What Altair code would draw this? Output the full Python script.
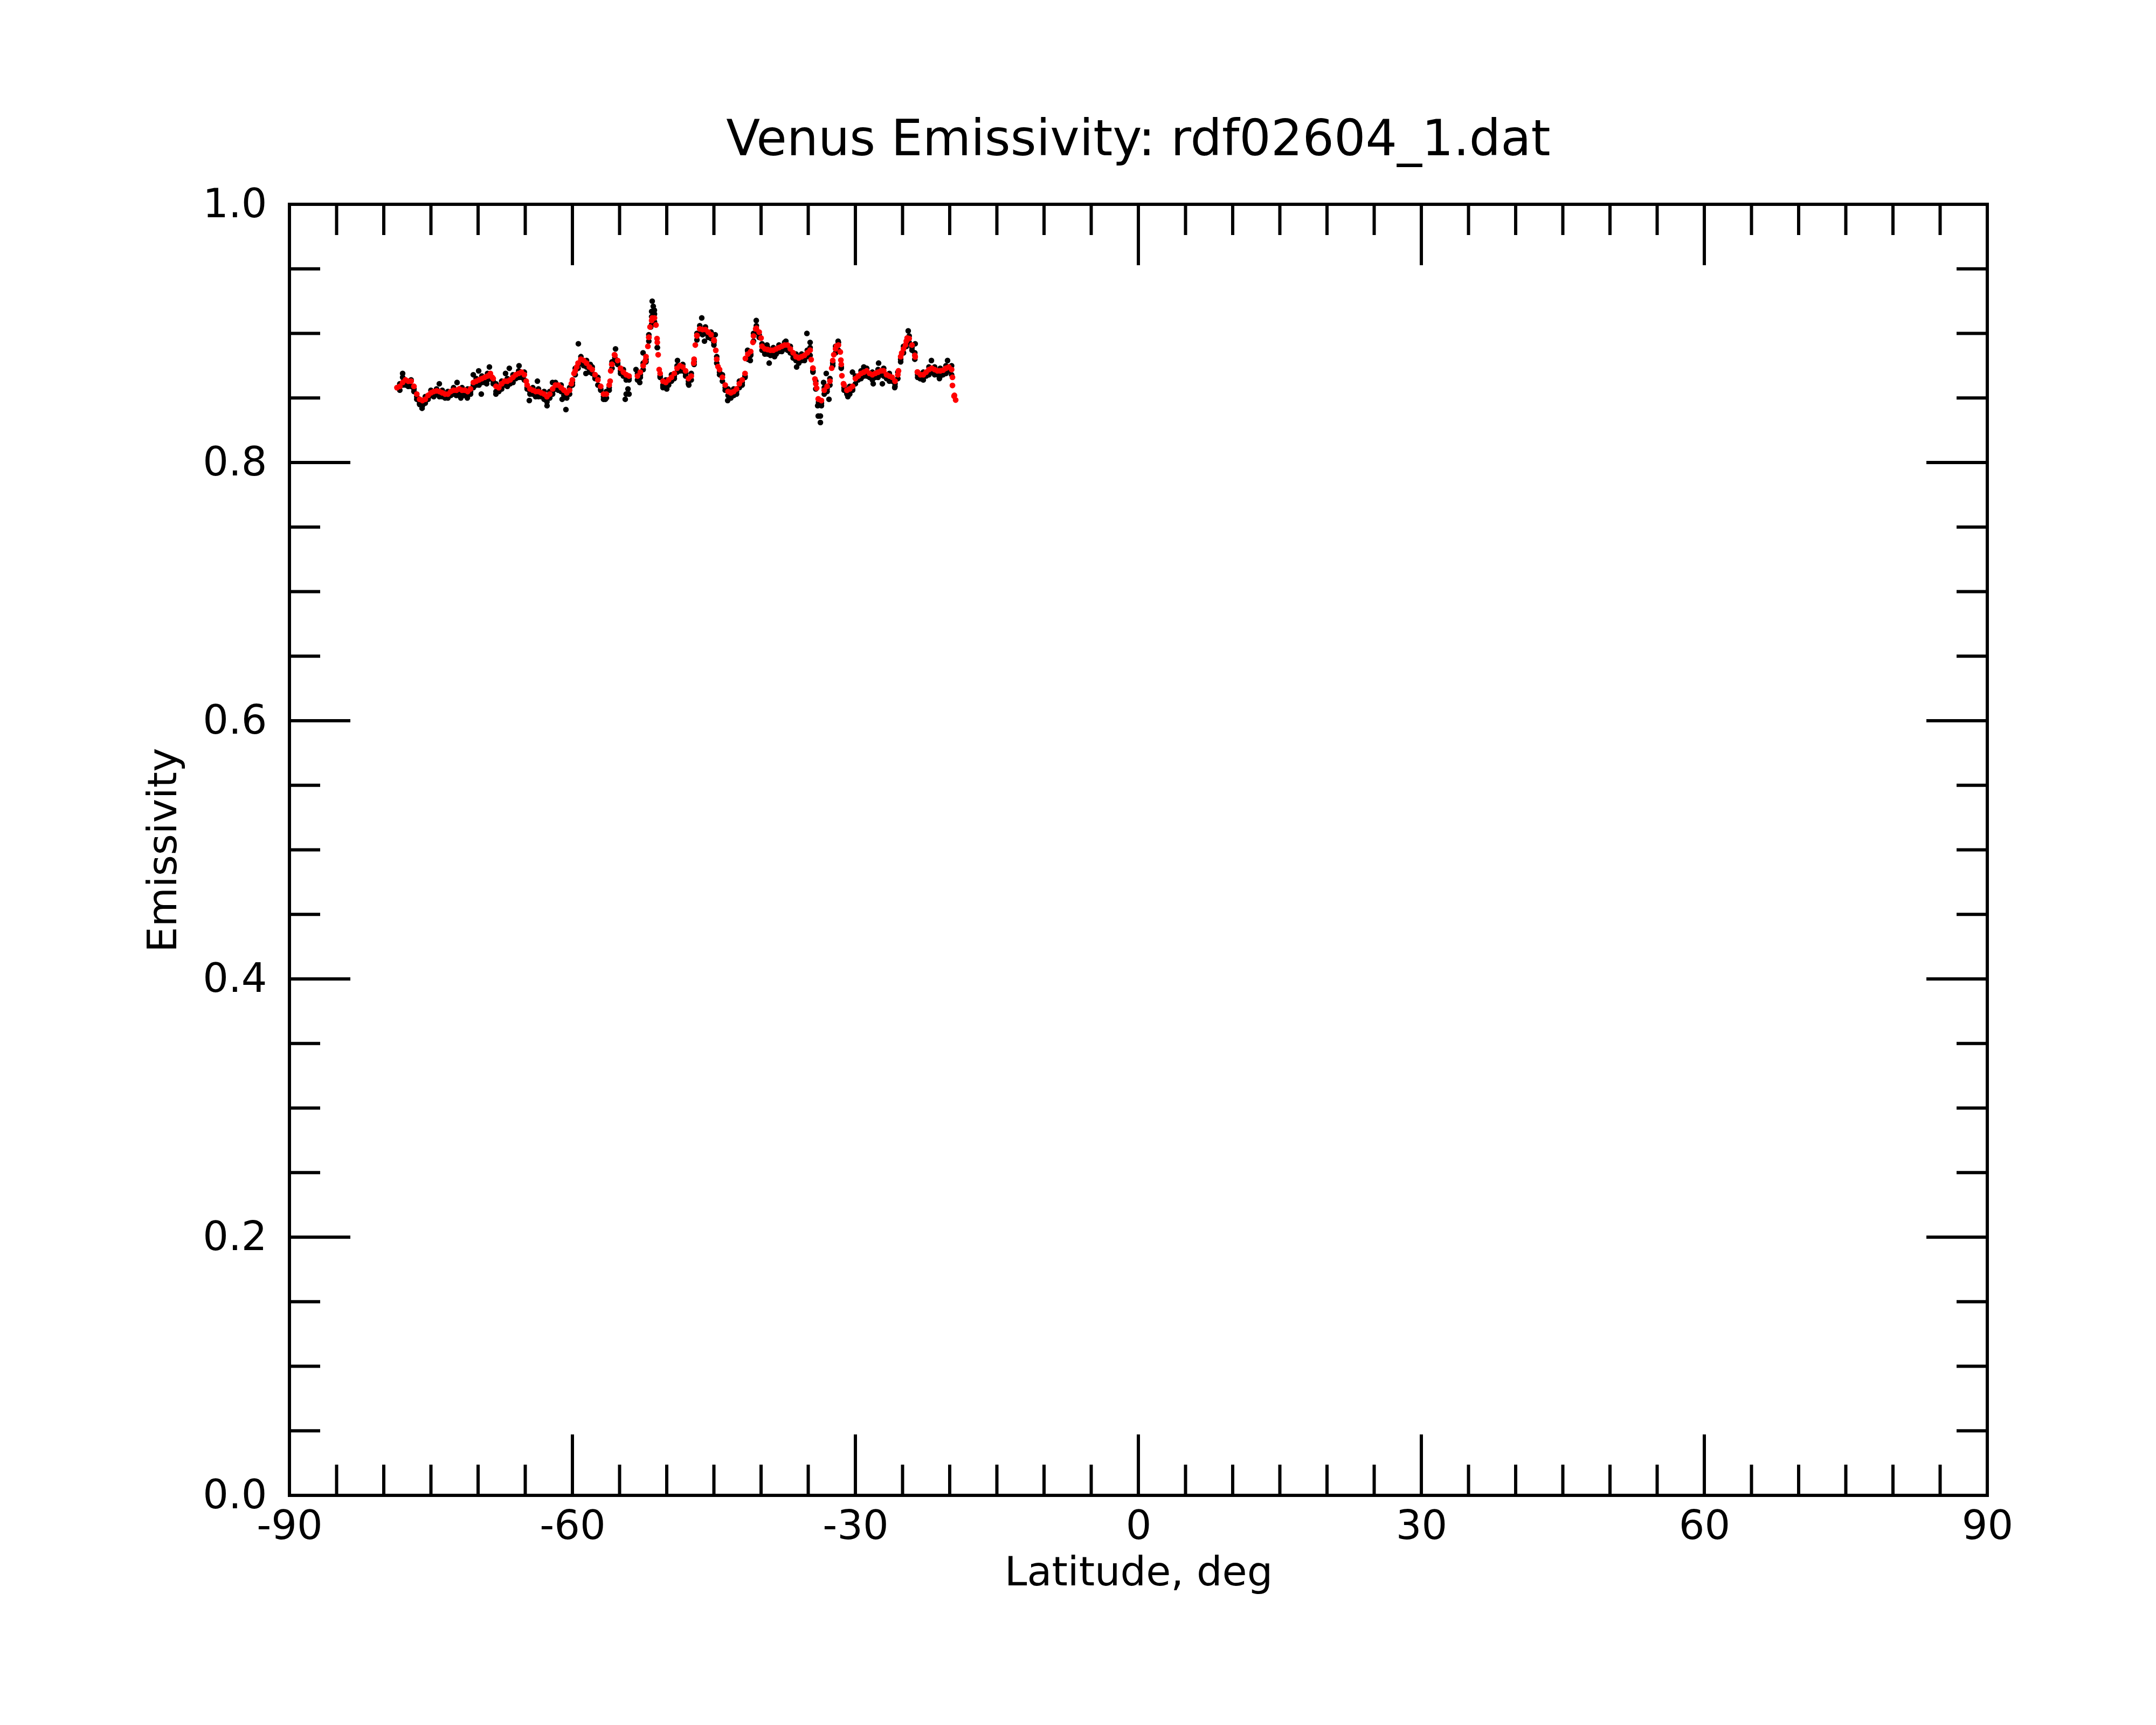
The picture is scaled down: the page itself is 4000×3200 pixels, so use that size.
import altair as alt
import pandas as pd

# ---------------- data ----------------
LAT = [
    -78.6, -78.3, -78.0, -77.7, -77.4, -77.1, -76.8, -76.5, -76.2, -75.9,
    -75.6, -75.3, -75.0, -74.7, -74.4, -74.1, -73.8, -73.5, -73.2, -72.9,
    -72.6, -72.3, -72.0, -71.7, -71.4, -71.1, -70.8, -70.5, -70.2, -69.9,
    -69.6, -69.3, -69.0, -68.7, -68.4, -68.1, -67.8, -67.5, -67.2, -66.9,
    -66.6, -66.3, -66.0, -65.7, -65.4, -65.1, -64.8, -64.5, -64.2, -63.9,
    -63.6, -63.3, -63.0, -62.7, -62.4, -62.1, -61.8, -61.5, -61.2, -60.9,
    -60.6, -60.3, -60.0, -59.7, -59.4, -59.1, -58.8, -58.5, -58.2, -57.9,
    -57.6, -57.3, -57.0, -56.7, -56.4, -56.1, -55.8, -55.5, -55.2, -54.9,
    -54.6, -54.3, -54.0, -53.7, -53.4, -53.1, -52.8, -52.5, -52.2, -51.9,
    -51.6, -51.3, -51.0, -50.7, -50.4, -50.1, -49.8, -49.5, -49.2, -48.9,
    -48.6, -48.3, -48.0, -47.7, -47.4, -47.1, -46.8, -46.5, -46.2, -45.9,
    -45.6, -45.3, -45.0, -44.7, -44.4, -44.1, -43.8, -43.5, -43.2, -42.9,
    -42.6, -42.3, -42.0, -41.7, -41.4, -41.1, -40.8, -40.5, -40.2, -39.9,
    -39.6, -39.3, -39.0, -38.7, -38.4, -38.1, -37.8, -37.5, -37.2, -36.9,
    -36.6, -36.3, -36.0, -35.7, -35.4, -35.1, -34.8, -34.5, -34.2, -33.9,
    -33.6, -33.3, -33.0, -32.7, -32.4, -32.1, -31.8, -31.5, -31.2, -30.9,
    -30.6, -30.3, -30.0, -29.7, -29.4, -29.1, -28.8, -28.5, -28.2, -27.9,
    -27.6, -27.3, -27.0, -26.7, -26.4, -26.1, -25.8, -25.5, -25.2, -24.9,
    -24.6, -24.3, -24.0, -23.7, -23.4, -23.1, -22.8, -22.5, -22.2, -21.9,
    -21.6, -21.3, -21.0, -20.7, -20.4, -20.1, -19.8, -19.5,
]

# smoothed emissivity (red dots)
RED = [
    0.858, 0.859, 0.862, 0.864, 0.863, 0.863, 0.859, 0.853, 0.849, 0.848,
    0.849, 0.852, 0.854, 0.855, 0.8555, 0.855, 0.854, 0.853, 0.853, 0.855,
    0.856, 0.856, 0.857, 0.856, 0.856, 0.855, 0.857, 0.862, 0.863, 0.864,
    0.865, 0.866, 0.867, 0.869, 0.865, 0.859, 0.858, 0.861, 0.863, 0.863,
    0.864, 0.866, 0.868, 0.869, 0.870, 0.868, 0.860, 0.857, 0.856, 0.855,
    0.855, 0.854, 0.853, 0.851, 0.853, 0.857, 0.860, 0.860, 0.858, 0.856,
    0.854, 0.856, 0.864, 0.871, 0.877, 0.880, 0.879, 0.877, 0.874, 0.872,
    0.868, 0.864, 0.859, 0.853, 0.853, 0.860, 0.876, 0.883, 0.879, 0.873,
    0.870, 0.868, 0.867, None, None, 0.867, 0.870, 0.875, 0.882, 0.897,
    0.910, 0.912, 0.893, 0.869, 0.863, 0.862, 0.864, 0.866, 0.869, 0.873,
    0.875, 0.874, 0.871, 0.865, 0.867, 0.880, 0.898, 0.9035, 0.903, 0.903,
    0.901, 0.899, 0.895, 0.880, 0.872, 0.866, 0.860, 0.855, 0.854, 0.855,
    0.857, 0.861, 0.864, 0.869, 0.884, 0.886, 0.898, 0.904, 0.901, 0.890,
    0.888, 0.8875, 0.887, 0.887, 0.888, 0.889, 0.890, 0.891, 0.891, 0.888,
    0.885, 0.882, 0.881, 0.882, 0.883, 0.885, 0.887, 0.873, 0.861, 0.849,
    0.848, 0.856, 0.859, 0.863, 0.879, 0.888, 0.891, 0.876, 0.860, 0.856,
    0.857, 0.859, 0.865, 0.867, 0.869, 0.870, 0.871, 0.869, 0.868, 0.869,
    0.870, 0.871, 0.871, 0.868, 0.867, 0.866, 0.863, 0.868, 0.882, 0.888,
    0.894, 0.896, 0.891, 0.883, 0.870, 0.868, 0.868, 0.870, 0.872, 0.873,
    0.872, 0.871, 0.871, 0.8715, 0.873, 0.874, 0.872, 0.852,
]

# extra smoothed samples on the steep flanks
RED_EXTRA_LAT = [
    -68.5, -64.9, -60.11, -59.83, -59.54, -56.0, -55.94, -55.83, -55.54,
    -52.29, -52.0, -51.89, -51.77, -51.54, -51.14, -51.03, -50.91, -50.8,
    -47.14, -46.97, -46.8, -44.97, -44.8, -44.57, -41.66, -40.86, -40.57,
    -40.0, -34.69, -34.51, -34.29, -34.11, -33.94, -32.51, -32.29, -32.0,
    -31.6, -31.54, -31.43, -31.26, -25.43, -25.09, -24.69, -24.51, -23.66,
    -23.43, -19.71, -19.71, -19.54, -19.37,
]
RED_EXTRA = [
    0.866, 0.863, 0.861, 0.869, 0.874, 0.863, 0.871, 0.876, 0.8835,
    0.8785, 0.890, 0.897, 0.905, 0.912, 0.9065, 0.896, 0.8835, 0.872,
    0.877, 0.891, 0.8985, 0.8944, 0.8869, 0.8743, 0.8806, 0.8931, 0.9035,
    0.8964, 0.8797, 0.8731, 0.8647, 0.8576, 0.8493, 0.8731, 0.8835, 0.8902,
    0.8856, 0.8793, 0.8672, 0.861, 0.871, 0.8848, 0.891, 0.8964, 0.8818,
    0.8701, 0.866, 0.8597, 0.8514, 0.8484,
]

# raw emissivity (black dots), two samples at each latitude
BLACK = [
    None, 0.861, 0.866, 0.862, 0.861, 0.864, 0.857, 0.851, 0.846, 0.847,
    0.851, 0.850, 0.856, 0.853, 0.857, 0.853, 0.856, 0.851, 0.855, 0.853,
    0.858, 0.854, 0.855, 0.858, 0.853, 0.857, 0.855, 0.860, 0.865, 0.862,
    0.867, 0.863, 0.869, 0.867, 0.863, 0.861, 0.856, 0.863, 0.861, 0.865,
    0.862, 0.868, 0.866, 0.871, 0.868, 0.870, 0.858, 0.855, 0.858, 0.853,
    0.857, 0.852, 0.855, 0.849, 0.855, 0.855, 0.862, 0.858, 0.860, 0.854,
    0.852, 0.858, 0.862, 0.873, 0.875, 0.882, 0.877, 0.879, 0.872, 0.874,
    0.866, 0.866, 0.857, 0.851, 0.855, 0.858, 0.878, 0.881, 0.877, 0.871,
    0.872, 0.853, 0.865, None, None, 0.869, 0.868, 0.877, 0.880, 0.899,
    0.913, 0.915, 0.889, 0.867, 0.860, 0.864, 0.862, 0.868, 0.867, 0.875,
    0.873, 0.876, 0.869, 0.863, 0.869, 0.878, 0.900, 0.906, 0.901, 0.905,
    0.899, 0.901, 0.893, 0.882, 0.870, 0.868, 0.858, 0.857, 0.852, 0.857,
    0.855, 0.863, 0.862, 0.867, 0.886, 0.884, 0.900, 0.906, 0.899, 0.892,
    0.886, 0.889, 0.885, 0.889, 0.886, 0.891, 0.888, 0.893, 0.889, 0.890,
    0.883, 0.884, 0.879, 0.884, 0.881, 0.887, 0.889, 0.871, 0.863, 0.847,
    0.846, 0.858, 0.857, 0.865, 0.877, 0.890, 0.893, 0.874, 0.858, 0.854,
    0.859, 0.857, 0.867, 0.865, 0.871, 0.868, 0.873, 0.867, 0.870, 0.867,
    0.872, 0.869, 0.873, 0.866, 0.869, 0.864, 0.861, 0.870, 0.880, 0.890,
    0.892, 0.898, 0.889, 0.885, 0.868, 0.866, 0.870, 0.868, 0.874, 0.871,
    0.874, 0.869, 0.873, 0.869, 0.875, 0.872, 0.875, None,
]
BLACK2 = [
    None, 0.856, 0.860, 0.860, 0.859, 0.859, 0.855, 0.849, 0.845, 0.844,
    0.846, 0.849, 0.852, 0.851, 0.853, 0.851, 0.851, 0.850, 0.850, 0.852,
    0.853, 0.852, 0.854, 0.853, 0.852, 0.852, 0.853, 0.858, 0.860, 0.860,
    0.862, 0.862, 0.864, 0.865, 0.861, 0.855, 0.855, 0.857, 0.860, 0.859,
    0.861, 0.862, 0.865, 0.866, 0.866, 0.864, 0.857, 0.853, 0.853, 0.851,
    0.851, 0.851, 0.849, 0.847, 0.850, 0.853, 0.857, 0.856, 0.855, 0.852,
    0.850, 0.853, 0.860, 0.868, 0.873, 0.877, 0.875, 0.874, 0.870, 0.869,
    0.865, 0.860, 0.856, 0.849, 0.850, 0.856, 0.873, 0.879, 0.876, 0.869,
    0.867, 0.864, 0.864, None, None, 0.864, 0.866, 0.872, 0.878, 0.894,
    0.907, 0.909, 0.889, 0.866, 0.859, 0.859, 0.860, 0.863, 0.865, 0.870,
    0.871, 0.871, 0.867, 0.861, 0.864, 0.876, 0.895, 0.900, 0.899, 0.900,
    0.897, 0.896, 0.891, 0.877, 0.868, 0.863, 0.856, 0.852, 0.850, 0.852,
    0.853, 0.858, 0.860, 0.866, 0.880, 0.883, 0.894, 0.901, 0.897, 0.887,
    0.884, 0.884, 0.883, 0.884, 0.884, 0.886, 0.886, 0.888, 0.887, 0.885,
    0.881, 0.879, 0.877, 0.879, 0.879, 0.882, 0.883, 0.870, 0.857, 0.846,
    0.844, 0.853, 0.855, 0.860, 0.875, 0.885, 0.887, 0.873, 0.856, 0.853,
    0.853, 0.856, 0.861, 0.864, 0.865, 0.867, 0.867, 0.866, 0.864, 0.866,
    0.866, 0.868, 0.867, 0.865, 0.863, 0.863, 0.859, 0.865, 0.878, 0.885,
    0.890, 0.893, 0.887, 0.880, 0.866, 0.865, 0.864, 0.867, 0.868, 0.870,
    0.868, 0.868, 0.867, 0.868, 0.869, 0.871, 0.868, None,
]

# scattered raw samples away from the smoothed curve
BLACK_EXTRA_LAT = [
    -78.0, -75.94, -74.11, -72.23, -71.83, -71.14, -70.51, -69.94, -69.66,
    -69.09, -68.8, -68.11, -67.09, -66.69, -65.66, -64.57, -63.71, -62.69,
    -62.11, -61.09, -60.69, -59.37, -58.57, -58.11, -56.51, -55.43, -54.8,
    -54.4, -54.11, -54.0, -53.26, -52.86, -52.51, -51.7, -51.6, -51.54,
    -51.43, -51.31, -50.4, -50.0, -48.86, -47.66, -46.29, -46.0, -44.86,
    -43.54, -41.43, -41.14, -40.51, -39.37, -39.14, -38.57, -37.37, -36.23,
    -35.14, -34.8, -34.0, -33.94, -33.71, -33.71, -33.09, -33.37, -32.8,
    -31.83, -30.8, -30.31, -29.11, -27.54, -28.11, -27.14, -25.83, -24.4,
    -23.66, -23.14, -21.94, -21.09, -20.23,
]
BLACK_EXTRA = [
    0.869, 0.842, 0.861, 0.862, 0.850, 0.850, 0.868, 0.871, 0.853,
    0.861, 0.874, 0.853, 0.869, 0.873, 0.875, 0.848, 0.863, 0.844,
    0.862, 0.849, 0.841, 0.892, 0.869, 0.876, 0.849, 0.888, 0.869,
    0.849, 0.857, 0.853, 0.872, 0.862, 0.885, 0.905, 0.917, 0.925,
    0.921, 0.918, 0.858, 0.857, 0.879, 0.860, 0.912, 0.894, 0.899,
    0.848, 0.887, 0.879, 0.910, 0.891, 0.877, 0.882, 0.894, 0.874,
    0.900, 0.893, 0.844, 0.836, 0.836, 0.831, 0.869, 0.862, 0.849,
    0.894, 0.851, 0.870, 0.874, 0.877, 0.861, 0.861, 0.858, 0.902,
    0.892, 0.865, 0.879, 0.865, 0.879,
]

# axis labels and tick positions
X_LABELS = [-90, -60, -30, 0, 30, 60, 90]
Y_LABELS = [0.0, 0.2, 0.4, 0.6, 0.8, 1.0]
X_MAJOR = [-60, -30, 0, 30, 60]
X_MINOR = [-85, -80, -75, -70, -65, -55, -50, -45, -40, -35, -25, -20, -15,
           -10, -5, 5, 10, 15, 20, 25, 35, 40, 45, 50, 55, 65, 70, 75, 80, 85]
Y_MAJOR = [0.2, 0.4, 0.6, 0.8]
Y_MINOR = [0.05, 0.1, 0.15, 0.25, 0.3, 0.35, 0.45, 0.5, 0.55, 0.65, 0.7,
           0.75, 0.85, 0.9, 0.95]

TITLE = "Venus Emissivity: rdf02604_1.dat"

# ---------------- chart ----------------
W, H = 3150, 2395
MAJ, MIN = 113, 57
FONT = "DejaVu Sans"


def frame(lats, vals):
    df = pd.DataFrame(list(zip(lats, vals)), columns=["lat", "emis"])
    return df.dropna()


red_df = frame(LAT, RED)
red_x_df = frame(RED_EXTRA_LAT, RED_EXTRA)
black_df = pd.concat([frame(LAT, BLACK), frame(LAT, BLACK2)])
black_x_df = frame(BLACK_EXTRA_LAT, BLACK_EXTRA)

xs = alt.Scale(domain=[-90, 90], nice=False, zero=False)
ys = alt.Scale(domain=[0, 1], nice=False, zero=False)

x_axis = alt.Axis(
    values=X_LABELS, labelExpr="'' + datum.value", title="Latitude, deg",
    labelPadding=21, labelFlush=False, labelOverlap=False,
    titleX=W / 2, titleY=166, titleBaseline="alphabetic",
)
y_axis = alt.Axis(
    values=Y_LABELS, labelExpr="format(datum.value, '.1f')", title="Emissivity",
    labelPadding=42, labelFlush=False, labelOverlap=False,
    titleX=-211, titleY=H / 2, titleBaseline="alphabetic",
)

xenc = alt.X("lat:Q", scale=xs, axis=x_axis)
yenc = alt.Y("emis:Q", scale=ys, axis=y_axis)

black_pts = alt.Chart(black_df).mark_circle(size=110, color="black", opacity=1).encode(x=xenc, y=yenc)
black_xpts = alt.Chart(black_x_df).mark_circle(size=110, color="black", opacity=1).encode(x=xenc, y=yenc)
red_pts = alt.Chart(red_df).mark_circle(size=115, color="#ff0000", opacity=1).encode(x=xenc, y=yenc)
red_xpts = alt.Chart(red_x_df).mark_circle(size=115, color="#ff0000", opacity=1).encode(x=xenc, y=yenc)


def xticks(vals, length):
    df = pd.DataFrame({"lat": vals})
    base = alt.Chart(df).mark_rule(color="black", strokeWidth=6)
    bottom = base.encode(x=xenc, y=alt.value(H), y2=alt.value(H - length))
    top = base.encode(x=xenc, y=alt.value(0), y2=alt.value(length))
    return [bottom, top]


def yticks(vals, length):
    df = pd.DataFrame({"emis": vals})
    base = alt.Chart(df).mark_rule(color="black", strokeWidth=6)
    left = base.encode(y=yenc, x=alt.value(0), x2=alt.value(length))
    right = base.encode(y=yenc, x=alt.value(W), x2=alt.value(W - length))
    return [left, right]


layers = [black_pts, black_xpts, red_pts, red_xpts]
layers += xticks(X_MAJOR, MAJ) + xticks(X_MINOR, MIN)
layers += yticks(Y_MAJOR, MAJ) + yticks(Y_MINOR, MIN)

chart = (
    alt.layer(*layers)
    .properties(
        width=W,
        height=H,
        title=alt.TitleParams(
            TITLE, font=FONT, fontSize=92, fontWeight="normal", color="black",
            anchor="middle", baseline="alphabetic", offset=-38,
        ),
        padding={"left": 529, "top": 371, "right": 300, "bottom": 400},
        autosize=alt.AutoSizeParams(type="none"),
        background="white",
    )
    .configure_view(stroke="black", strokeWidth=6)
    .configure_axis(
        labelFont=FONT, labelFontSize=75, labelColor="black",
        titleFont=FONT, titleFontSize=75, titleFontWeight="normal", titleColor="black",
        domain=False, ticks=False, grid=False,
    )
)

chart.save("out.html", embed_options={"renderer": "svg", "actions": False})
